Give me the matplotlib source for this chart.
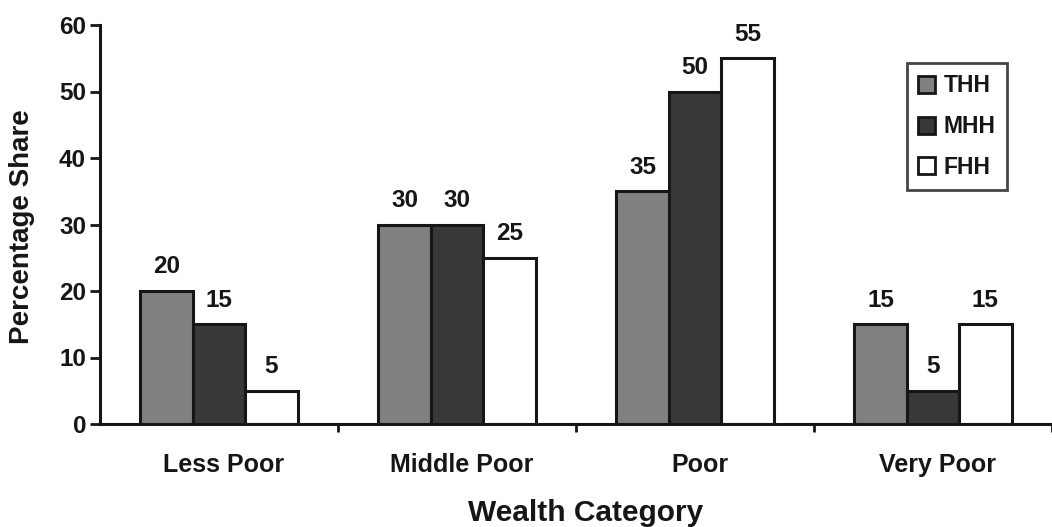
import matplotlib
matplotlib.use('Agg')
import matplotlib.pyplot as plt
import numpy as np

plt.rcParams['font.family'] = ['Liberation Sans', 'DejaVu Sans']
plt.rcParams['font.weight'] = 'bold'

# Share of households by wealth category and household type
categories = ['Less Poor', 'Middle Poor', 'Poor', 'Very Poor']
series = ['THH', 'MHH', 'FHH']
thh = [20, 30, 35, 15]
mhh = [15, 30, 50, 5]
fhh = [5, 25, 55, 15]
colors = ['#808080', '#383838', '#ffffff']
ink = '#161616'

fig = plt.figure(figsize=(10.52, 5.27), dpi=100)
ax = fig.add_axes([100 / 1052, 1 - 424 / 527, 952 / 1052, 399 / 527])

x = np.arange(len(categories))
width = 0.22
for i, (name, vals, col) in enumerate(zip(series, [thh, mhh, fhh], colors)):
    pos = x + (i - 1) * width
    ax.bar(pos, vals, width, color=col, edgecolor=ink, linewidth=2.2, label=name)
    for p, v in zip(pos, vals):
        ax.text(p, v + 1.9, str(v), ha='center', va='bottom', fontsize=17.5, fontweight='bold', color=ink)

ax.set_xlim(-0.5, -0.5 + 952 / 241)
ax.set_ylim(0, 60)
ax.set_yticks(range(0, 61, 10))
ax.tick_params(axis='y', direction='out', length=7, width=2, labelsize=17.5, colors=ink, pad=3)

# category boundaries carry the tick marks, names sit at the centers
ax.set_xticks(np.arange(0.5, 4, 1))
ax.set_xticklabels([])
ax.tick_params(axis='x', direction='out', length=6, width=2, colors=ink)
for xi, cat in zip(x, categories):
    ax.text(xi + 0.02, -6.1, cat, ha='center', va='center', fontsize=18, fontweight='bold', color=ink)

for s in ['top', 'right']:
    ax.spines[s].set_visible(False)
for s in ['left', 'bottom']:
    ax.spines[s].set_linewidth(2.2)
    ax.spines[s].set_color(ink)

ax.set_ylabel('Percentage Share', fontsize=20, fontweight='bold', color=ink)
ax.yaxis.set_label_coords(-0.068, 0.494)
fig.text(586 / 1052, 1 - 513 / 527, 'Wealth Category', ha='center', va='center',
         fontsize=21.5, fontweight='bold', color=ink)

leg = ax.legend(loc='upper left', bbox_to_anchor=(807 / 952, 1 - 38 / 399), frameon=True, fancybox=False,
                fontsize=16.5, handlelength=0.7, handleheight=0.75, handletextpad=0.4,
                labelspacing=0.77, borderpad=0.5, borderaxespad=0)
leg.get_frame().set_edgecolor(ink)
leg.get_frame().set_linewidth(2)
for t in leg.get_texts():
    t.set_color(ink)
for h in leg.legend_handles:
    h.set_linewidth(2)

fig.savefig('out.png', dpi=100)
